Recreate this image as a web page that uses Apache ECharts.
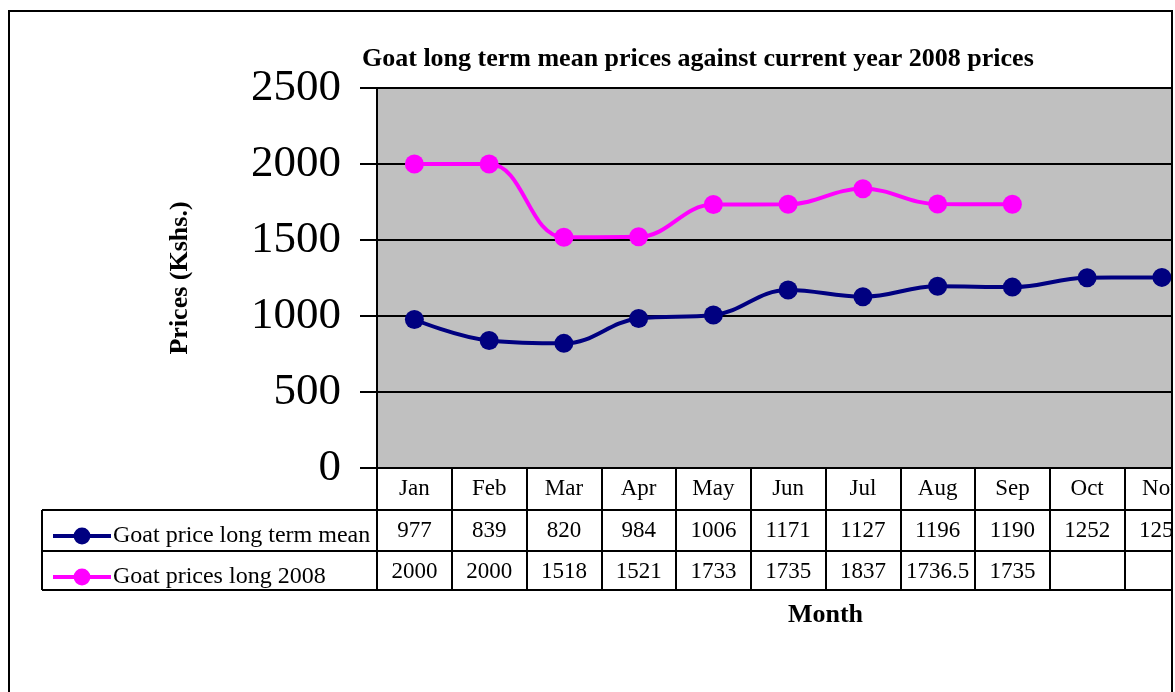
<!DOCTYPE html>
<html>
<head>
<meta charset="utf-8">
<title>Goat prices</title>
<script src="https://cdn.jsdelivr.net/npm/echarts@6/dist/echarts.min.js"></script>
<style>
  html, body { margin: 0; padding: 0; background: #fff; }
  #main { width: 1175px; height: 692px; }
</style>
</head>
<body>
<div id="main"></div>
<script>
// data
var months = ['Jan', 'Feb', 'Mar', 'Apr', 'May', 'Jun', 'Jul', 'Aug', 'Sep', 'Oct', 'Nov', 'Dec'];
var longTermMean = [977, 839, 820, 984, 1006, 1171, 1127, 1196, 1190, 1252, 1254, null];
var prices2008 = [2000, 2000, 1518, 1521, 1733, 1735, 1837, 1736.5, 1735, null, null, null];
var seriesNames = ['Goat price long term mean', 'Goat prices long 2008'];

var serif = "'Liberation Serif', 'Times New Roman', serif";

function cell(v) { return v == null ? '' : String(v); }

var chart = echarts.init(document.getElementById('main'));
chart.setOption({
    animation: false,
    title: {
        text: 'Goat long term mean prices against current year 2008 prices',
        left: 357, top: 41,
        textStyle: { fontFamily: serif, fontSize: 26, fontWeight: 'bold', color: '#000' }
    },
    legend: {
        orient: 'vertical',
        left: 46, top: 519,
        itemWidth: 58, itemHeight: 21, itemGap: 17,
        lineStyle: { width: 4 },
        textStyle: { fontFamily: serif, fontSize: 24, color: '#000', padding: [0, 0, 0, -3] },
        data: seriesNames
    },
    grid: {
        left: 377, top: 88, width: 897, height: 380,
        outerBoundsMode: 'none',
        show: true, backgroundColor: '#C0C0C0', borderColor: '#808080', borderWidth: 1
    },
    xAxis: {
        type: 'category',
        data: months,
        boundaryGap: true,
        name: 'Month',
        nameLocation: 'middle',
        nameGap: 134,
        nameTextStyle: { fontFamily: serif, fontSize: 26, fontWeight: 'bold', color: '#000' },
        axisLine: { lineStyle: { color: '#000', width: 2 } },
        axisTick: { show: true, length: 122, lineStyle: { color: '#000', width: 2 } },
        axisLabel: {
            interval: 0,
            margin: 0,
            formatter: function (v, i) {
                return '{m|' + v + '}\n{v|' + cell(longTermMean[i]) + '}\n{v|' + cell(prices2008[i]) + '}';
            },
            rich: {
                m: { fontFamily: serif, fontSize: 23, color: '#000', lineHeight: 42 },
                v: { fontFamily: serif, fontSize: 23, color: '#000', lineHeight: 41 }
            }
        }
    },
    yAxis: {
        type: 'value',
        min: 0, max: 2500, interval: 500,
        name: 'Prices (Kshs.)',
        nameLocation: 'middle',
        nameGap: 184,
        nameRotate: 90,
        nameTextStyle: { fontFamily: serif, fontSize: 26, fontWeight: 'bold', color: '#000' },
        axisLine: { show: true, lineStyle: { color: '#000', width: 2 } },
        axisTick: { show: true, length: 17, lineStyle: { color: '#000', width: 2 } },
        axisLabel: {
            margin: 36, fontFamily: serif, fontSize: 45, color: '#000',
            formatter: function (v) { return String(v); }
        },
        splitLine: { lineStyle: { color: '#000', width: 2 } }
    },
    series: [
        {
            name: seriesNames[0], type: 'line', data: longTermMean, smooth: 0.4,
            symbol: 'circle', symbolSize: 19,
            lineStyle: { color: '#000080', width: 4 },
            itemStyle: { color: '#000080' }
        },
        {
            name: seriesNames[1], type: 'line', data: prices2008, smooth: 0.4,
            symbol: 'circle', symbolSize: 19,
            lineStyle: { color: '#FF00FF', width: 4 },
            itemStyle: { color: '#FF00FF' }
        }
    ],
    graphic: [
        // rules of the data table under the axis
        { type: 'line', z: 50, shape: { x1: 42, y1: 510, x2: 1175, y2: 510 }, style: { stroke: '#000', lineWidth: 2 } },
        { type: 'line', z: 50, shape: { x1: 42, y1: 551, x2: 1175, y2: 551 }, style: { stroke: '#000', lineWidth: 2 } },
        { type: 'line', z: 50, shape: { x1: 42, y1: 590, x2: 1175, y2: 590 }, style: { stroke: '#000', lineWidth: 2 } },
        { type: 'line', z: 50, shape: { x1: 42, y1: 510, x2: 42, y2: 590 }, style: { stroke: '#000', lineWidth: 2 } },
        // page cut on the right
        { type: 'rect', z: 60, shape: { x: 1173, y: 0, width: 10, height: 692 }, style: { fill: '#fff' } },
        // outer frame
        { type: 'rect', z: 70, shape: { x: 9, y: 11, width: 1163, height: 700 }, style: { fill: 'none', stroke: '#000', lineWidth: 2 } }
    ]
});
</script>
</body>
</html>
